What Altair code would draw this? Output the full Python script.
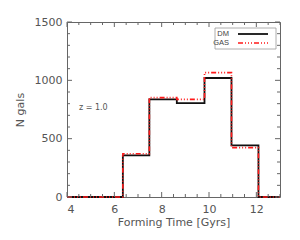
import altair as alt
import pandas as pd
import numpy as np

# Histogram data (bin edges and counts)
edges = [4.0, 6.36, 7.48, 8.64, 9.81, 10.95, 12.09, 13.0]
dm_counts = [0, 357, 837, 805, 1020, 443, 0, 0]
gas_counts = [0, 371, 852, 837, 1066, 423, 0, 0]

x_major = [4, 6, 8, 10, 12]
x_minor = [float(v) for v in np.arange(4, 13.01, 0.5) if v not in x_major]
y_major = [0, 500, 1000, 1500]
y_minor = [v for v in range(0, 1501, 100) if v not in y_major]

W, H = 213, 175
AX = "#666666"
FONT = "DejaVu Sans"

xs = alt.Scale(domain=[4, 13], nice=False, zero=False)
ys = alt.Scale(domain=[0, 1500], nice=False)
xaxis = alt.Axis(values=x_major, ticks=False, domain=False, grid=False,
                 labelPadding=6, titlePadding=2, format="d")
yaxis = alt.Axis(values=y_major, ticks=False, domain=False, grid=False,
                 labelPadding=5, titlePadding=9, format="d")
XT = "Forming Time [Gyrs]"
YT = "N gals"


def X(f):
    return alt.X(f, scale=xs, axis=xaxis, title=XT)


def Y(f):
    return alt.Y(f, scale=ys, axis=yaxis, title=YT)


df = pd.DataFrame({
    "x": edges * 2,
    "y": dm_counts + gas_counts,
    "s": ["DM"] * len(edges) + ["GAS"] * len(edges),
})

dm = alt.Chart(df[df.s == "DM"]).mark_line(
    interpolate="step-after", color="#111111", strokeWidth=1.8
).encode(x=X("x:Q"), y=Y("y:Q"))

gas = alt.Chart(df[df.s == "GAS"]).mark_line(
    interpolate="step-after", color="#ff1a1a", strokeWidth=1.6,
    strokeDash=[5, 2, 1, 2, 1, 2, 1, 2]
).encode(x=X("x:Q"), y=Y("y:Q"))


def xticks(vals, length):
    d = pd.DataFrame({"v": vals})
    b = alt.Chart(d).mark_rule(color=AX, strokeWidth=1).encode(
        x=X("v:Q"), y=alt.value(H), y2=alt.value(H - length))
    t = alt.Chart(d).mark_rule(color=AX, strokeWidth=1).encode(
        x=X("v:Q"), y=alt.value(0), y2=alt.value(length))
    return [b, t]


def yticks(vals, length):
    d = pd.DataFrame({"v": vals})
    l = alt.Chart(d).mark_rule(color=AX, strokeWidth=1).encode(
        y=Y("v:Q"), x=alt.value(0), x2=alt.value(length))
    r = alt.Chart(d).mark_rule(color=AX, strokeWidth=1).encode(
        y=Y("v:Q"), x=alt.value(W), x2=alt.value(W - length))
    return [l, r]


ticks = xticks(x_major, 5) + xticks(x_minor, 3) + yticks(y_major, 5) + yticks(y_minor, 3)

# Legend
one = pd.DataFrame({"a": [0]})
box = alt.Chart(one).mark_rect(
    fill="white", stroke="#999999", strokeWidth=0.8
).encode(x=alt.value(148), x2=alt.value(209), y=alt.value(6), y2=alt.value(27))
leg_text_dm = alt.Chart(pd.DataFrame({"t": ["DM"]})).mark_text(
    align="right", baseline="middle", font="Liberation Sans", fontSize=7.5, color="#444444"
).encode(x=alt.value(162), y=alt.value(12), text="t:N")
leg_text_gas = alt.Chart(pd.DataFrame({"t": ["GAS"]})).mark_text(
    align="right", baseline="middle", font="Liberation Sans", fontSize=7.5, color="#444444"
).encode(x=alt.value(162), y=alt.value(21), text="t:N")
leg_line_dm = alt.Chart(one).mark_rule(
    color="#111111", strokeWidth=1.8
).encode(x=alt.value(171), x2=alt.value(201), y=alt.value(12))
leg_line_gas = alt.Chart(one).mark_rule(
    color="#ff1a1a", strokeWidth=1.6, strokeDash=[5, 2, 1, 2, 1, 2, 1, 2]
).encode(x=alt.value(171), x2=alt.value(201), y=alt.value(21))

ztext = alt.Chart(pd.DataFrame({"t": ["z = 1.0"]})).mark_text(
    align="left", baseline="middle", font=FONT, fontSize=8, color="#555555"
).encode(x=alt.value(12), y=alt.value(86), text="t:N")

chart = alt.layer(
    dm, gas, *ticks, box, leg_text_dm, leg_text_gas, leg_line_dm, leg_line_gas, ztext
).properties(
    width=W, height=H,
    autosize=alt.AutoSizeParams(type="none"),
    padding={"left": 59, "top": 14, "right": 10, "bottom": 40},
).configure_view(
    stroke=AX, strokeWidth=1
).configure_axis(
    labelFont=FONT, titleFont=FONT, labelFontSize=11, titleFontSize=11,
    labelColor="#555555", titleColor="#555555", titleFontWeight="normal",
)

chart.save("out.html", embed_options={"renderer": "svg", "actions": False})
